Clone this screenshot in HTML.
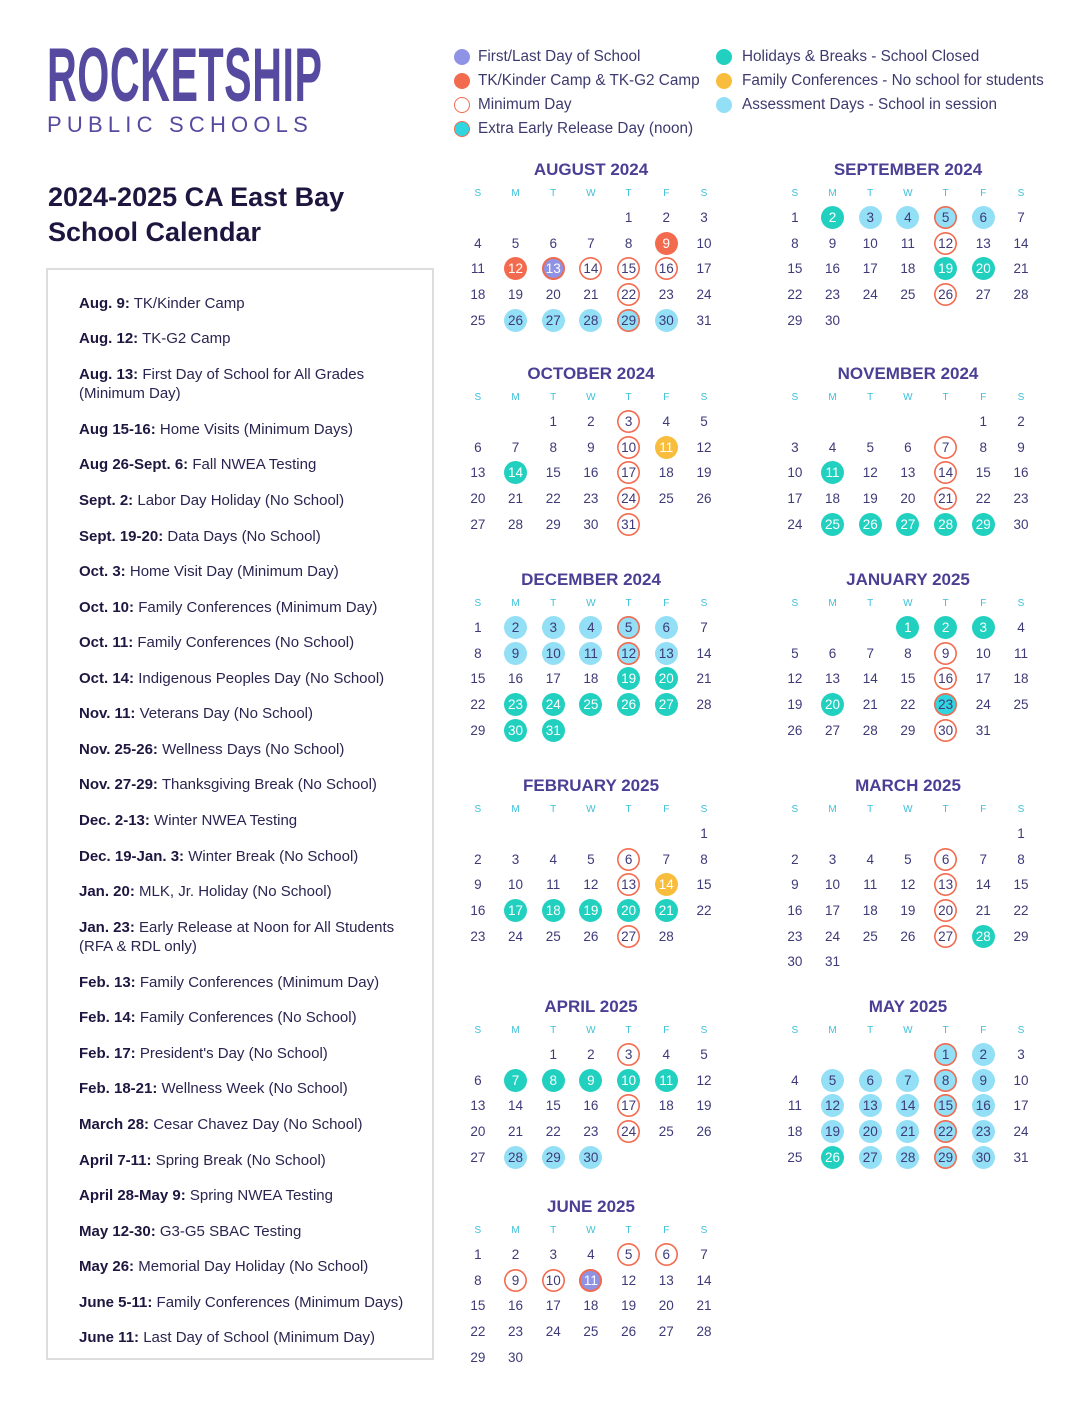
<!DOCTYPE html>
<html><head><meta charset="utf-8"><style>
*{margin:0;padding:0;box-sizing:border-box}
body{width:1088px;height:1408px;background:#fff;position:relative;font-family:"Liberation Sans",sans-serif;color:#3e3a78;overflow:hidden}
.abs{position:absolute}
.logo{left:47px;top:36px;font-weight:bold;font-size:76px;color:#564aa0;transform:scaleX(.542);transform-origin:left top;white-space:nowrap;letter-spacing:1px;line-height:80px}
.pub{left:47px;top:112px;font-size:22px;color:#564aa0;letter-spacing:5.2px;white-space:nowrap}
.title{left:48px;top:180px;font-size:27px;font-weight:bold;color:#1f1640;line-height:35px}
.box{left:46px;top:268px;width:388px;height:1092px;border:2px solid #ddd}
.it{position:absolute;left:79px;font-size:15px;color:#2a2550;line-height:19px;white-space:nowrap}
.it b{color:#1f1640}
.lg{position:absolute;font-size:15.3px;color:#3e3a6e;white-space:nowrap;line-height:18px}
.dot{position:absolute;width:16px;height:16px;border-radius:50%}
.m{position:absolute;width:264px}
.m h3{text-align:center;font-size:17px;font-weight:bold;color:#4b3f95;height:22px;line-height:22px}
.g{display:grid;grid-template-columns:repeat(7,37.7px);grid-auto-rows:25.6px;font-size:13.5px;text-align:center}
.g.d{font-size:10px;color:#3cc0d9;grid-auto-rows:auto;height:24px;padding-top:0}
.g span{display:flex;align-items:center;justify-content:center}
.g span i{font-style:normal;width:23px;height:23px;border-radius:50%;display:flex;align-items:center;justify-content:center}
.o i{background:#f26b4f;color:#fff}
.p i{background:#8f93e6;color:#fff;box-shadow:inset 0 0 0 2px #f26b4f}
.b i{background:#93dff5}
.t i{background:#22d0c0;color:#fff}
.y i{background:#f8bd3c;color:#fff}
.r i{box-shadow:inset 0 0 0 1.6px #f26b4f}
.e i{background:#2fd6df;box-shadow:inset 0 0 0 1.6px #f26b4f}
</style></head><body>
<div class="abs logo">ROCKETSHIP</div>
<div class="abs pub">PUBLIC SCHOOLS</div>
<div class="abs title">2024-2025 CA East Bay<br>School Calendar</div>
<div class="abs box"></div>
<div class="it" style="top:294px"><b>Aug. 9:</b> TK/Kinder Camp</div>
<div class="it" style="top:329px"><b>Aug. 12:</b> TK-G2 Camp</div>
<div class="it" style="top:365px"><b>Aug. 13:</b> First Day of School for All Grades<br>(Minimum Day)</div>
<div class="it" style="top:420px"><b>Aug 15-16:</b> Home Visits (Minimum Days)</div>
<div class="it" style="top:455px"><b>Aug 26-Sept. 6:</b> Fall NWEA Testing</div>
<div class="it" style="top:491px"><b>Sept. 2:</b> Labor Day Holiday (No School)</div>
<div class="it" style="top:527px"><b>Sept. 19-20:</b> Data Days (No School)</div>
<div class="it" style="top:562px"><b>Oct. 3:</b> Home Visit Day (Minimum Day)</div>
<div class="it" style="top:598px"><b>Oct. 10:</b> Family Conferences (Minimum Day)</div>
<div class="it" style="top:633px"><b>Oct. 11:</b> Family Conferences (No School)</div>
<div class="it" style="top:669px"><b>Oct. 14:</b> Indigenous Peoples Day (No School)</div>
<div class="it" style="top:704px"><b>Nov. 11:</b> Veterans Day (No School)</div>
<div class="it" style="top:740px"><b>Nov. 25-26:</b> Wellness Days (No School)</div>
<div class="it" style="top:775px"><b>Nov. 27-29:</b> Thanksgiving Break (No School)</div>
<div class="it" style="top:811px"><b>Dec. 2-13:</b> Winter NWEA Testing</div>
<div class="it" style="top:847px"><b>Dec. 19-Jan. 3:</b> Winter Break (No School)</div>
<div class="it" style="top:882px"><b>Jan. 20:</b> MLK, Jr. Holiday (No School)</div>
<div class="it" style="top:918px"><b>Jan. 23:</b> Early Release at Noon for All Students<br>(RFA &amp; RDL only)</div>
<div class="it" style="top:973px"><b>Feb. 13:</b> Family Conferences (Minimum Day)</div>
<div class="it" style="top:1008px"><b>Feb. 14:</b> Family Conferences (No School)</div>
<div class="it" style="top:1044px"><b>Feb. 17:</b> President's Day (No School)</div>
<div class="it" style="top:1079px"><b>Feb. 18-21:</b> Wellness Week (No School)</div>
<div class="it" style="top:1115px"><b>March 28:</b> Cesar Chavez Day (No School)</div>
<div class="it" style="top:1151px"><b>April 7-11:</b> Spring Break (No School)</div>
<div class="it" style="top:1186px"><b>April 28-May 9:</b> Spring NWEA Testing</div>
<div class="it" style="top:1222px"><b>May 12-30:</b> G3-G5 SBAC Testing</div>
<div class="it" style="top:1257px"><b>May 26:</b> Memorial Day Holiday (No School)</div>
<div class="it" style="top:1293px"><b>June 5-11:</b> Family Conferences (Minimum Days)</div>
<div class="it" style="top:1328px"><b>June 11:</b> Last Day of School (Minimum Day)</div>

<div class="dot" style="left:454px;top:49px;background:#8f93e6"></div><div class="lg" style="left:478px;top:48px">First/Last Day of School</div>
<div class="dot" style="left:454px;top:73px;background:#f26b4f"></div><div class="lg" style="left:478px;top:72px">TK/Kinder Camp &amp; TK-G2 Camp</div>
<div class="dot" style="left:454px;top:97px;border:1.6px solid #f26b4f"></div><div class="lg" style="left:478px;top:96px">Minimum Day</div>
<div class="dot" style="left:454px;top:121px;background:#2fd6df;border:1.6px solid #f26b4f"></div><div class="lg" style="left:478px;top:120px">Extra Early Release Day (noon)</div>
<div class="dot" style="left:716px;top:49px;background:#22d0c0"></div><div class="lg" style="left:742px;top:48px">Holidays &amp; Breaks - School Closed</div>
<div class="dot" style="left:716px;top:73px;background:#f8bd3c"></div><div class="lg" style="left:742px;top:72px">Family Conferences - No school for students</div>
<div class="dot" style="left:716px;top:97px;background:#93dff5"></div><div class="lg" style="left:742px;top:96px">Assessment Days - School in session</div>

<div class="m" style="left:459px;top:159px"><h3>AUGUST 2024</h3><div class="g d"><span>S</span><span>M</span><span>T</span><span>W</span><span>T</span><span>F</span><span>S</span></div><div class="g">
<span style="grid-column-start:5"><i>1</i></span><span><i>2</i></span><span><i>3</i></span><span><i>4</i></span><span><i>5</i></span><span><i>6</i></span><span><i>7</i></span><span><i>8</i></span><span class="o"><i>9</i></span><span><i>10</i></span><span><i>11</i></span><span class="o"><i>12</i></span><span class="p"><i>13</i></span><span class="r"><i>14</i></span><span class="r"><i>15</i></span><span class="r"><i>16</i></span><span><i>17</i></span><span><i>18</i></span><span><i>19</i></span><span><i>20</i></span><span><i>21</i></span><span class="r"><i>22</i></span><span><i>23</i></span><span><i>24</i></span><span><i>25</i></span><span class="b"><i>26</i></span><span class="b"><i>27</i></span><span class="b"><i>28</i></span><span class="b r"><i>29</i></span><span class="b"><i>30</i></span><span><i>31</i></span></div></div>

<div class="m" style="left:776px;top:159px"><h3>SEPTEMBER 2024</h3><div class="g d"><span>S</span><span>M</span><span>T</span><span>W</span><span>T</span><span>F</span><span>S</span></div><div class="g">
<span><i>1</i></span><span class="t"><i>2</i></span><span class="b"><i>3</i></span><span class="b"><i>4</i></span><span class="b r"><i>5</i></span><span class="b"><i>6</i></span><span><i>7</i></span><span><i>8</i></span><span><i>9</i></span><span><i>10</i></span><span><i>11</i></span><span class="r"><i>12</i></span><span><i>13</i></span><span><i>14</i></span><span><i>15</i></span><span><i>16</i></span><span><i>17</i></span><span><i>18</i></span><span class="t"><i>19</i></span><span class="t"><i>20</i></span><span><i>21</i></span><span><i>22</i></span><span><i>23</i></span><span><i>24</i></span><span><i>25</i></span><span class="r"><i>26</i></span><span><i>27</i></span><span><i>28</i></span><span><i>29</i></span><span><i>30</i></span></div></div>

<div class="m" style="left:459px;top:363px"><h3>OCTOBER 2024</h3><div class="g d"><span>S</span><span>M</span><span>T</span><span>W</span><span>T</span><span>F</span><span>S</span></div><div class="g">
<span style="grid-column-start:3"><i>1</i></span><span><i>2</i></span><span class="r"><i>3</i></span><span><i>4</i></span><span><i>5</i></span><span><i>6</i></span><span><i>7</i></span><span><i>8</i></span><span><i>9</i></span><span class="r"><i>10</i></span><span class="y"><i>11</i></span><span><i>12</i></span><span><i>13</i></span><span class="t"><i>14</i></span><span><i>15</i></span><span><i>16</i></span><span class="r"><i>17</i></span><span><i>18</i></span><span><i>19</i></span><span><i>20</i></span><span><i>21</i></span><span><i>22</i></span><span><i>23</i></span><span class="r"><i>24</i></span><span><i>25</i></span><span><i>26</i></span><span><i>27</i></span><span><i>28</i></span><span><i>29</i></span><span><i>30</i></span><span class="r"><i>31</i></span></div></div>

<div class="m" style="left:776px;top:363px"><h3>NOVEMBER 2024</h3><div class="g d"><span>S</span><span>M</span><span>T</span><span>W</span><span>T</span><span>F</span><span>S</span></div><div class="g">
<span style="grid-column-start:6"><i>1</i></span><span><i>2</i></span><span><i>3</i></span><span><i>4</i></span><span><i>5</i></span><span><i>6</i></span><span class="r"><i>7</i></span><span><i>8</i></span><span><i>9</i></span><span><i>10</i></span><span class="t"><i>11</i></span><span><i>12</i></span><span><i>13</i></span><span class="r"><i>14</i></span><span><i>15</i></span><span><i>16</i></span><span><i>17</i></span><span><i>18</i></span><span><i>19</i></span><span><i>20</i></span><span class="r"><i>21</i></span><span><i>22</i></span><span><i>23</i></span><span><i>24</i></span><span class="t"><i>25</i></span><span class="t"><i>26</i></span><span class="t"><i>27</i></span><span class="t"><i>28</i></span><span class="t"><i>29</i></span><span><i>30</i></span></div></div>

<div class="m" style="left:459px;top:569px"><h3>DECEMBER 2024</h3><div class="g d"><span>S</span><span>M</span><span>T</span><span>W</span><span>T</span><span>F</span><span>S</span></div><div class="g">
<span><i>1</i></span><span class="b"><i>2</i></span><span class="b"><i>3</i></span><span class="b"><i>4</i></span><span class="b r"><i>5</i></span><span class="b"><i>6</i></span><span><i>7</i></span><span><i>8</i></span><span class="b"><i>9</i></span><span class="b"><i>10</i></span><span class="b"><i>11</i></span><span class="b r"><i>12</i></span><span class="b"><i>13</i></span><span><i>14</i></span><span><i>15</i></span><span><i>16</i></span><span><i>17</i></span><span><i>18</i></span><span class="t"><i>19</i></span><span class="t"><i>20</i></span><span><i>21</i></span><span><i>22</i></span><span class="t"><i>23</i></span><span class="t"><i>24</i></span><span class="t"><i>25</i></span><span class="t"><i>26</i></span><span class="t"><i>27</i></span><span><i>28</i></span><span><i>29</i></span><span class="t"><i>30</i></span><span class="t"><i>31</i></span></div></div>

<div class="m" style="left:776px;top:569px"><h3>JANUARY 2025</h3><div class="g d"><span>S</span><span>M</span><span>T</span><span>W</span><span>T</span><span>F</span><span>S</span></div><div class="g">
<span class="t" style="grid-column-start:4"><i>1</i></span><span class="t"><i>2</i></span><span class="t"><i>3</i></span><span><i>4</i></span><span><i>5</i></span><span><i>6</i></span><span><i>7</i></span><span><i>8</i></span><span class="r"><i>9</i></span><span><i>10</i></span><span><i>11</i></span><span><i>12</i></span><span><i>13</i></span><span><i>14</i></span><span><i>15</i></span><span class="r"><i>16</i></span><span><i>17</i></span><span><i>18</i></span><span><i>19</i></span><span class="t"><i>20</i></span><span><i>21</i></span><span><i>22</i></span><span class="e"><i>23</i></span><span><i>24</i></span><span><i>25</i></span><span><i>26</i></span><span><i>27</i></span><span><i>28</i></span><span><i>29</i></span><span class="r"><i>30</i></span><span><i>31</i></span></div></div>

<div class="m" style="left:459px;top:775px"><h3>FEBRUARY 2025</h3><div class="g d"><span>S</span><span>M</span><span>T</span><span>W</span><span>T</span><span>F</span><span>S</span></div><div class="g">
<span style="grid-column-start:7"><i>1</i></span><span><i>2</i></span><span><i>3</i></span><span><i>4</i></span><span><i>5</i></span><span class="r"><i>6</i></span><span><i>7</i></span><span><i>8</i></span><span><i>9</i></span><span><i>10</i></span><span><i>11</i></span><span><i>12</i></span><span class="r"><i>13</i></span><span class="y"><i>14</i></span><span><i>15</i></span><span><i>16</i></span><span class="t"><i>17</i></span><span class="t"><i>18</i></span><span class="t"><i>19</i></span><span class="t"><i>20</i></span><span class="t"><i>21</i></span><span><i>22</i></span><span><i>23</i></span><span><i>24</i></span><span><i>25</i></span><span><i>26</i></span><span class="r"><i>27</i></span><span><i>28</i></span></div></div>

<div class="m" style="left:776px;top:775px"><h3>MARCH 2025</h3><div class="g d"><span>S</span><span>M</span><span>T</span><span>W</span><span>T</span><span>F</span><span>S</span></div><div class="g">
<span style="grid-column-start:7"><i>1</i></span><span><i>2</i></span><span><i>3</i></span><span><i>4</i></span><span><i>5</i></span><span class="r"><i>6</i></span><span><i>7</i></span><span><i>8</i></span><span><i>9</i></span><span><i>10</i></span><span><i>11</i></span><span><i>12</i></span><span class="r"><i>13</i></span><span><i>14</i></span><span><i>15</i></span><span><i>16</i></span><span><i>17</i></span><span><i>18</i></span><span><i>19</i></span><span class="r"><i>20</i></span><span><i>21</i></span><span><i>22</i></span><span><i>23</i></span><span><i>24</i></span><span><i>25</i></span><span><i>26</i></span><span class="r"><i>27</i></span><span class="t"><i>28</i></span><span><i>29</i></span><span><i>30</i></span><span><i>31</i></span></div></div>

<div class="m" style="left:459px;top:996px"><h3>APRIL 2025</h3><div class="g d"><span>S</span><span>M</span><span>T</span><span>W</span><span>T</span><span>F</span><span>S</span></div><div class="g">
<span style="grid-column-start:3"><i>1</i></span><span><i>2</i></span><span class="r"><i>3</i></span><span><i>4</i></span><span><i>5</i></span><span><i>6</i></span><span class="t"><i>7</i></span><span class="t"><i>8</i></span><span class="t"><i>9</i></span><span class="t"><i>10</i></span><span class="t"><i>11</i></span><span><i>12</i></span><span><i>13</i></span><span><i>14</i></span><span><i>15</i></span><span><i>16</i></span><span class="r"><i>17</i></span><span><i>18</i></span><span><i>19</i></span><span><i>20</i></span><span><i>21</i></span><span><i>22</i></span><span><i>23</i></span><span class="r"><i>24</i></span><span><i>25</i></span><span><i>26</i></span><span><i>27</i></span><span class="b"><i>28</i></span><span class="b"><i>29</i></span><span class="b"><i>30</i></span></div></div>

<div class="m" style="left:776px;top:996px"><h3>MAY 2025</h3><div class="g d"><span>S</span><span>M</span><span>T</span><span>W</span><span>T</span><span>F</span><span>S</span></div><div class="g">
<span class="b r" style="grid-column-start:5"><i>1</i></span><span class="b"><i>2</i></span><span><i>3</i></span><span><i>4</i></span><span class="b"><i>5</i></span><span class="b"><i>6</i></span><span class="b"><i>7</i></span><span class="b r"><i>8</i></span><span class="b"><i>9</i></span><span><i>10</i></span><span><i>11</i></span><span class="b"><i>12</i></span><span class="b"><i>13</i></span><span class="b"><i>14</i></span><span class="b r"><i>15</i></span><span class="b"><i>16</i></span><span><i>17</i></span><span><i>18</i></span><span class="b"><i>19</i></span><span class="b"><i>20</i></span><span class="b"><i>21</i></span><span class="b r"><i>22</i></span><span class="b"><i>23</i></span><span><i>24</i></span><span><i>25</i></span><span class="t"><i>26</i></span><span class="b"><i>27</i></span><span class="b"><i>28</i></span><span class="b r"><i>29</i></span><span class="b"><i>30</i></span><span><i>31</i></span></div></div>

<div class="m" style="left:459px;top:1196px"><h3>JUNE 2025</h3><div class="g d"><span>S</span><span>M</span><span>T</span><span>W</span><span>T</span><span>F</span><span>S</span></div><div class="g">
<span><i>1</i></span><span><i>2</i></span><span><i>3</i></span><span><i>4</i></span><span class="r"><i>5</i></span><span class="r"><i>6</i></span><span><i>7</i></span><span><i>8</i></span><span class="r"><i>9</i></span><span class="r"><i>10</i></span><span class="p"><i>11</i></span><span><i>12</i></span><span><i>13</i></span><span><i>14</i></span><span><i>15</i></span><span><i>16</i></span><span><i>17</i></span><span><i>18</i></span><span><i>19</i></span><span><i>20</i></span><span><i>21</i></span><span><i>22</i></span><span><i>23</i></span><span><i>24</i></span><span><i>25</i></span><span><i>26</i></span><span><i>27</i></span><span><i>28</i></span><span><i>29</i></span><span><i>30</i></span></div></div>
</body></html>
